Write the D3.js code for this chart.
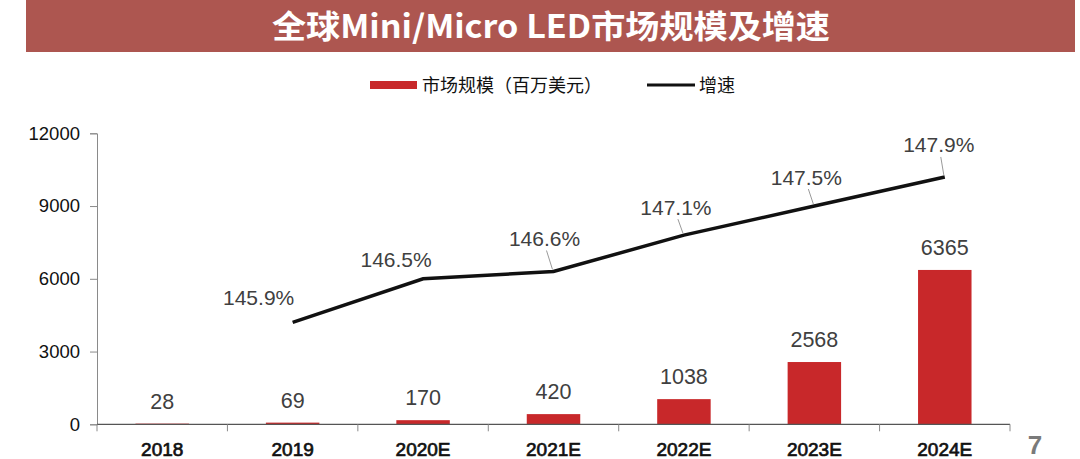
<!DOCTYPE html>
<html>
<head>
<meta charset="utf-8">
<script src="https://cdn.jsdelivr.net/npm/d3@7"></script>
<style>
  html, body { margin: 0; padding: 0; background: #fff; }
  svg { display: block; }
</style>
</head>
<body>
<svg id="chart" width="1080" height="459"></svg>
<script>
// ---- data ----
const categories = ["2018", "2019", "2020E", "2021E", "2022E", "2023E", "2024E"];
const marketSize = [28, 69, 170, 420, 1038, 2568, 6365];          // 百万美元
const growthRate = [null, 145.9, 146.5, 146.6, 147.1, 147.5, 147.9]; // %
const yTicks = [0, 3000, 6000, 9000, 12000];
const titleText = "全球Mini/Micro LED市场规模及增速";
const legendBar = "市场规模（百万美元）";
const legendLine = "增速";
const pageNumber = "7";

// label layout (offset of growth label centre from its point) – layout only
const growthLabelOffsets = [null, [-34, -25], [-27, -19], [-9, -33], [-8, -28], [-8, -29], [-6, -32]];
const growthLeader = [false, false, false, true, true, true, true];

// ---- layout ----
const svg = d3.select("#chart");
const plotL = 97, plotR = 1010, plotT = 133.3, plotB = 424.3;
const numFont = "'Liberation Sans', Arial, Helvetica, sans-serif";
const cjkFont = "'Noto Sans CJK SC', 'Noto Sans', sans-serif";

// banner
svg.append("rect").attr("x", 26).attr("y", 0).attr("width", 1049).attr("height", 52)
  .attr("fill", "#ad5650");
svg.append("text").attr("x", 551).attr("y", 38)
  .attr("text-anchor", "middle")
  .attr("font-family", cjkFont).attr("font-weight", "bold")
  .attr("font-size", 32).attr("fill", "#ffffff")
  .attr("textLength", 558).attr("lengthAdjust", "spacingAndGlyphs")
  .text(titleText);

// legend
const lg = svg.append("g");
lg.append("rect").attr("x", 370).attr("y", 81).attr("width", 47).attr("height", 8).attr("fill", "#c8282a");
lg.append("text").attr("x", 422).attr("y", 91.5).attr("font-family", cjkFont)
  .attr("font-size", 18).attr("fill", "#111").text(legendBar);
lg.append("line").attr("x1", 647).attr("x2", 695).attr("y1", 85).attr("y2", 85)
  .attr("stroke", "#111").attr("stroke-width", 3);
lg.append("text").attr("x", 699).attr("y", 91.5).attr("font-family", cjkFont)
  .attr("font-size", 18).attr("fill", "#111").text(legendLine);

// scales
const x = d3.scaleBand().domain(categories).range([plotL, plotR]).paddingInner(0).paddingOuter(0);
const y = d3.scaleLinear().domain([0, 12000]).range([plotB, plotT]);
const y2 = d3.scaleLinear().domain([144.5, 148.5]).range([plotB, plotT]);

// y axis
const yAxis = svg.append("g").attr("transform", `translate(${plotL},0)`)
  .call(d3.axisLeft(y).tickValues(yTicks).tickSize(7).tickPadding(10).tickFormat(d3.format("d")));
yAxis.select(".domain").attr("stroke", "#8a8a8a");
yAxis.selectAll(".tick line").attr("stroke", "#8a8a8a");
yAxis.selectAll(".tick text").attr("font-family", numFont).attr("font-size", 18.5).attr("fill", "#111");

// bars
const barW = x.bandwidth() * 0.41;
svg.append("g").selectAll("rect").data(categories).join("rect")
  .attr("x", (d) => x(d) + x.bandwidth() / 2 - barW / 2)
  .attr("y", (d, i) => y(marketSize[i]))
  .attr("width", barW)
  .attr("height", (d, i) => y(0) - y(marketSize[i]))
  .attr("fill", "#c8282a");

// x axis (ticks at band boundaries)
const xAxis = svg.append("g").attr("transform", `translate(0,${plotB})`);
xAxis.append("line").attr("x1", plotL).attr("x2", plotR).attr("y1", 0).attr("y2", 0)
  .attr("stroke", "#555").attr("stroke-width", 1.2);
const bounds = categories.map((d) => x(d)).concat([x(categories[categories.length - 1]) + x.bandwidth()]);
xAxis.selectAll("line.tk").data(bounds).join("line").attr("class", "tk")
  .attr("x1", (d) => d).attr("x2", (d) => d).attr("y1", 0).attr("y2", 7)
  .attr("stroke", "#8a8a8a");
xAxis.selectAll("text").data(categories).join("text")
  .attr("x", (d) => x(d) + x.bandwidth() / 2).attr("y", 32)
  .attr("text-anchor", "middle").attr("font-family", numFont).attr("font-size", 19)
  .attr("fill", "#111").attr("stroke", "#111").attr("stroke-width", 0.7)
  .text((d) => d);

// bar value labels
svg.append("g").selectAll("text").data(categories).join("text")
  .attr("x", (d) => x(d) + x.bandwidth() / 2)
  .attr("y", (d, i) => y(marketSize[i]) - 15)
  .attr("text-anchor", "middle").attr("font-family", numFont).attr("font-size", 21.5)
  .attr("fill", "#404040").text((d, i) => marketSize[i]);

// growth line
const pts = categories.map((d, i) => ({ c: d, v: growthRate[i], i }))
  .filter((p) => p.v != null);
const line = d3.line().x((p) => x(p.c) + x.bandwidth() / 2).y((p) => y2(p.v));
svg.append("path").datum(pts).attr("d", line)
  .attr("fill", "none").attr("stroke", "#111").attr("stroke-width", 3.5)
  .attr("stroke-linejoin", "miter");

// growth labels + leaders
const gl = svg.append("g");
pts.forEach((p) => {
  const px = x(p.c) + x.bandwidth() / 2, py = y2(p.v);
  const [dx, dy] = growthLabelOffsets[p.i];
  if (growthLeader[p.i]) {
    gl.append("line").attr("x1", px + dx + 2).attr("y1", py + dy + 12)
      .attr("x2", px - 1).attr("y2", py - 2)
      .attr("stroke", "#9a9a9a").attr("stroke-width", 1);
  }
  gl.append("text").attr("x", px + dx).attr("y", py + dy + 7.5)
    .attr("text-anchor", "middle").attr("font-family", numFont).attr("font-size", 21)
    .attr("fill", "#404040").text(p.v.toFixed(1) + "%");
});

// page number
svg.append("text").attr("x", 1035).attr("y", 454).attr("text-anchor", "middle")
  .attr("font-family", numFont).attr("font-size", 26).attr("font-weight", "bold")
  .attr("fill", "#7a7a7a").text(pageNumber);
</script>
</body>
</html>
